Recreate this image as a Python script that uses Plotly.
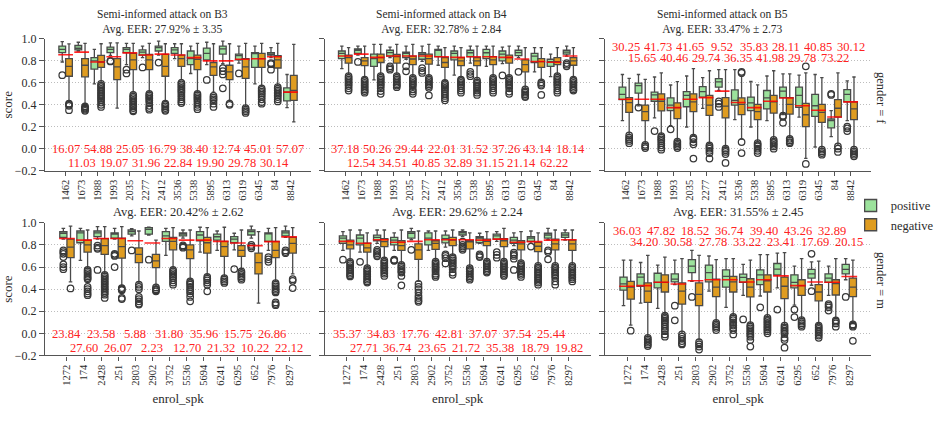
import plotly.graph_objects as go

# ---------------- data ----------------
speakers_f = ["1462", "1673", "1988", "1993", "2035", "2277", "2412", "3536",
              "5338", "5895", "6313", "6319", "6345", "84", "8842"]
speakers_m = ["1272", "174", "2428", "251", "2803", "2902", "3752", "5536",
              "5694", "6241", "6295", "652", "7976", "8297"]

attacks = ["B3", "B4", "B5"]
avg_eer = ["27.92% ± 3.35", "32.78% ± 2.84", "33.47% ± 2.73",
           "20.42% ± 2.62", "29.62% ± 2.24", "31.55% ± 2.45"]

# box stats per speaker: (lower whisker, q1, median, q3, upper whisker)
b3f_pos = [(0.79, 0.875, 0.905, 0.935, 0.975), (0.89, 0.90, 0.915, 0.94, 0.97), (0.59, 0.725, 0.80, 0.83, 0.905),
           (0.85, 0.876, 0.905, 0.926, 0.965), (0.765, 0.876, 0.905, 0.92, 0.96), (0.83, 0.853, 0.88, 0.90, 0.935),
           (0.853, 0.89, 0.92, 0.935, 0.98), (0.82, 0.868, 0.90, 0.92, 0.956), (0.685, 0.765, 0.82, 0.89, 0.935),
           (0.765, 0.81, 0.868, 0.917, 0.97), (0.774, 0.862, 0.91, 0.935, 0.98), (0.78, 0.81, 0.847, 0.862, 0.935),
           (0.59, 0.74, 0.868, 0.876, 0.935), (0.83, 0.853, 0.862, 0.876, 0.92), (0.373, 0.435, 0.515, 0.553, 0.676)]
b3f_neg = [(0.43, 0.66, 0.75, 0.82, 0.955), (0.41, 0.655, 0.76, 0.82, 0.96), (0.60, 0.74, 0.79, 0.85, 0.956),
           (0.37, 0.63, 0.745, 0.82, 0.965), (0.515, 0.72, 0.81, 0.868, 0.96), (0.515, 0.72, 0.81, 0.86, 0.96),
           (0.43, 0.66, 0.75, 0.86, 0.956), (0.63, 0.75, 0.82, 0.853, 0.956), (0.515, 0.72, 0.815, 0.853, 0.96),
           (0.515, 0.667, 0.745, 0.785, 0.956), (0.44, 0.63, 0.70, 0.76, 0.956), (0.38, 0.64, 0.745, 0.82, 0.96),
           (0.575, 0.74, 0.82, 0.868, 0.96), (0.575, 0.735, 0.81, 0.847, 0.96), (0.244, 0.44, 0.53, 0.667, 0.95)]
b3f_pos_out = [[0.67], [], [], [0.80, 0.795], [0.72, 0.685], [0.74], [0.785], [], [], [0.626],
               [0.735, 0.706, 0.676, 0.55], [0.685], [], [0.78, 0.77, 0.72], []]
b3f_neg_out = [[0.41, 0.40, 0.39, 0.35], [0.385, 0.375, 0.365, 0.355, 0.345],
               [0.59, 0.575, 0.56, 0.545, 0.53, 0.515, 0.50, 0.485, 0.47, 0.455, 0.44, 0.42, 0.40, 0.38], [],
               [0.49, 0.475, 0.46, 0.445, 0.43, 0.415, 0.40, 0.385, 0.37, 0.35, 0.34],
               [0.50, 0.485, 0.47, 0.455, 0.44, 0.42, 0.39, 0.37, 0.355],
               [0.41, 0.40, 0.385, 0.37, 0.355, 0.345],
               [0.60, 0.585, 0.57, 0.555, 0.54, 0.525, 0.51, 0.49, 0.47, 0.45, 0.43, 0.415],
               [0.50, 0.485, 0.47, 0.455, 0.44, 0.42, 0.40, 0.38, 0.36],
               [0.48, 0.465, 0.45, 0.435, 0.41, 0.38], [0.41, 0.40], [0.37, 0.355, 0.34, 0.325],
               [0.55, 0.535, 0.52, 0.505, 0.49, 0.47, 0.45, 0.425, 0.41],
               [0.56, 0.545, 0.53, 0.515, 0.50, 0.485, 0.47, 0.45, 0.43], []]
b3f_thr = [0.856, 0.88, 0.79, 0.838, 0.873, 0.853, 0.862, 0.853, 0.83, 0.80, 0.80, 0.815, 0.82, 0.838, 0.515]
b3f_eer = ["16.07", "11.03", "54.88", "19.07", "25.05", "31.96", "16.79", "22.84", "38.40", "19.90",
           "12.74", "29.78", "45.01", "30.14", "57.07"]

b4f_pos = [(0.73, 0.82, 0.868, 0.89, 0.935), (0.853, 0.868, 0.897, 0.91, 0.935), (0.626, 0.75, 0.82, 0.862, 0.95),
           (0.83, 0.844, 0.876, 0.897, 0.926), (0.815, 0.83, 0.868, 0.88, 0.935), (0.795, 0.815, 0.86, 0.874, 0.935),
           (0.76, 0.838, 0.897, 0.905, 0.935), (0.67, 0.81, 0.868, 0.89, 0.935), (0.78, 0.838, 0.874, 0.897, 0.935),
           (0.75, 0.82, 0.874, 0.905, 0.935), (0.775, 0.80, 0.862, 0.89, 0.926), (0.83, 0.847, 0.876, 0.897, 0.935),
           (0.70, 0.785, 0.844, 0.868, 0.92), (0.656, 0.75, 0.794, 0.815, 0.862), (0.844, 0.862, 0.88, 0.897, 0.935)]
b4f_neg = [(0.676, 0.78, 0.83, 0.853, 0.92), (0.647, 0.756, 0.80, 0.83, 0.935), (0.676, 0.785, 0.83, 0.862, 0.95),
           (0.676, 0.78, 0.838, 0.86, 0.95), (0.66, 0.765, 0.817, 0.844, 0.95), (0.66, 0.77, 0.82, 0.862, 0.95),
           (0.62, 0.74, 0.785, 0.83, 0.92), (0.647, 0.756, 0.80, 0.83, 0.92), (0.63, 0.756, 0.80, 0.83, 0.935),
           (0.66, 0.765, 0.81, 0.838, 0.935), (0.66, 0.78, 0.83, 0.853, 0.935), (0.544, 0.70, 0.765, 0.81, 0.92),
           (0.62, 0.74, 0.794, 0.82, 0.92), (0.676, 0.765, 0.794, 0.83, 0.92), (0.647, 0.76, 0.80, 0.83, 0.92)]
b4f_pos_out = [[], [0.79], [], [0.75, 0.735, 0.72], [0.75, 0.705], [0.735, 0.71, 0.69], [], [],
               [0.70, 0.68, 0.66], [], [0.667], [0.70], [], [], [0.78, 0.765, 0.75]]
b4f_neg_out = [[0.66, 0.645, 0.63, 0.615, 0.60, 0.585, 0.57, 0.55, 0.53],
               [0.63, 0.615, 0.60, 0.585, 0.57, 0.555, 0.54, 0.525, 0.51],
               [0.66, 0.645, 0.63, 0.615, 0.60, 0.585, 0.57, 0.55, 0.525, 0.50],
               [0.66, 0.645, 0.63, 0.615, 0.60, 0.585, 0.575, 0.56],
               [0.645, 0.63, 0.615, 0.60, 0.585, 0.57, 0.54, 0.52, 0.50],
               [0.645, 0.63, 0.615, 0.60, 0.585, 0.57, 0.555, 0.485],
               [0.60, 0.585, 0.57, 0.555, 0.54, 0.52, 0.50, 0.48, 0.46, 0.44],
               [0.63, 0.615, 0.60, 0.585, 0.57, 0.55, 0.53, 0.51],
               [0.62, 0.605, 0.59, 0.575, 0.56, 0.545, 0.53, 0.51, 0.49],
               [0.645, 0.63, 0.615, 0.60, 0.585, 0.57, 0.55, 0.53, 0.51],
               [0.645, 0.63, 0.615, 0.60, 0.585, 0.57, 0.55, 0.52, 0.50],
               [0.54, 0.525, 0.51, 0.495, 0.48, 0.47],
               [0.605, 0.59, 0.575, 0.49],
               [0.66, 0.645, 0.63, 0.615, 0.60, 0.585, 0.57, 0.55, 0.53, 0.51],
               [0.63, 0.615, 0.60, 0.585, 0.57, 0.555, 0.54, 0.53]]
b4f_thr = [0.844, 0.862, 0.832, 0.844, 0.844, 0.844, 0.838, 0.832, 0.838, 0.838, 0.832, 0.817, 0.794, 0.788, 0.844]
b4f_eer = ["37.18", "12.54", "50.26", "34.51", "29.44", "40.85", "22.01", "32.89", "31.52", "31.15",
           "37.26", "21.14", "43.14", "62.22", "18.14"]

b5f_pos = [(0.256, 0.447, 0.494, 0.56, 0.676), (0.39, 0.506, 0.574, 0.597, 0.676), (0.28, 0.432, 0.49, 0.515, 0.653),
           (0.21, 0.347, 0.397, 0.462, 0.58), (0.197, 0.382, 0.485, 0.52, 0.662), (0.367, 0.47, 0.52, 0.565, 0.647),
           (0.53, 0.56, 0.609, 0.638, 0.72), (0.265, 0.397, 0.44, 0.535, 0.72), (0.197, 0.347, 0.418, 0.47, 0.612),
           (0.256, 0.362, 0.462, 0.53, 0.662), (0.31, 0.465, 0.524, 0.56, 0.682), (0.288, 0.376, 0.485, 0.56, 0.67),
           (0.015, 0.294, 0.391, 0.494, 0.676), (0.109, 0.19, 0.256, 0.27, 0.347), (0.256, 0.426, 0.494, 0.538, 0.618)]
b5f_neg = [(0.13, 0.33, 0.42, 0.465, 0.64), (0.044, 0.256, 0.338, 0.397, 0.632), (0.13, 0.344, 0.432, 0.50, 0.69),
           (0.074, 0.274, 0.374, 0.418, 0.61), (0.118, 0.338, 0.426, 0.50, 0.73), (0.044, 0.303, 0.397, 0.485, 0.71),
           (0.015, 0.28, 0.388, 0.465, 0.72), (0.088, 0.31, 0.403, 0.462, 0.66), (0.06, 0.265, 0.338, 0.403, 0.582),
           (0.088, 0.324, 0.426, 0.485, 0.71), (0.103, 0.315, 0.403, 0.465, 0.682), (-0.088, 0.20, 0.309, 0.412, 0.69),
           (0.0, 0.24, 0.33, 0.403, 0.647), (0.03, 0.288, 0.368, 0.447, 0.69), (0.0, 0.265, 0.362, 0.426, 0.653)]
b5f_pos_out = [[], [0.374], [0.16], [0.176], [], [], [0.43, 0.41, 0.38], [], [], [],
               [0.30, 0.29, 0.235], [], [], [0.50, 0.49], [0.20, 0.185, 0.16]]
b5f_neg_out = [[0.12, 0.10, 0.085, 0.07, 0.05], [0.035, 0.02, 0.005],
               [0.115, 0.10, 0.085, 0.07, 0.05, 0.03, 0.01, -0.01], [0.065, 0.05, 0.035, 0.02, 0.005],
               [0.10, 0.085, 0.06, 0.04, -0.09], [0.03, 0.015, 0.0, -0.02, -0.04, -0.09],
               [0.0, -0.015, -0.03, -0.05, -0.13], [0.70, 0.69, 0.06, -0.04],
               [0.05, 0.035, 0.02, 0.0, -0.02, -0.04], [0.08, 0.065, 0.05, 0.035, 0.02, 0.0],
               [0.09, 0.075, 0.06, 0.05], [0.75, -0.14], [-0.01, -0.025, -0.04, -0.055],
               [0.02, 0.0, -0.03], [-0.01, -0.025, -0.04, -0.055, -0.07]]
b5f_thr = [0.45, 0.45, 0.45, 0.374, 0.45, 0.465, 0.524, 0.42, 0.374, 0.432, 0.462, 0.391, 0.35, 0.288, 0.426]
b5f_eer = ["30.25", "15.65", "41.73", "40.46", "41.65", "29.74", "9.52", "36.35", "35.83", "41.98",
           "28.11", "29.78", "40.85", "73.22", "30.12"]

b3m_pos = [(0.853, 0.868, 0.906, 0.92, 0.95), (0.66, 0.82, 0.91, 0.926, 0.95), (0.853, 0.876, 0.91, 0.926, 0.965),
           (0.853, 0.862, 0.897, 0.91, 0.95), (0.882, 0.897, 0.92, 0.935, 0.947), (0.89, 0.897, 0.94, 0.956, 0.96),
           (0.706, 0.832, 0.882, 0.92, 0.95), (0.862, 0.882, 0.897, 0.91, 0.935), (0.735, 0.838, 0.89, 0.92, 0.96),
           (0.75, 0.844, 0.874, 0.897, 0.926), (0.756, 0.82, 0.853, 0.876, 0.906), (0.862, 0.89, 0.92, 0.935, 0.97),
           (0.75, 0.832, 0.905, 0.91, 0.95), (0.868, 0.882, 0.91, 0.926, 0.97)]
b3m_neg = [(0.465, 0.685, 0.78, 0.853, 0.97), (0.59, 0.735, 0.80, 0.844, 0.935), (0.544, 0.715, 0.794, 0.858, 0.965),
           (0.426, 0.68, 0.785, 0.862, 0.965), (0.456, 0.64, 0.715, 0.773, 0.926), (0.426, 0.594, 0.656, 0.715, 0.844),
           (0.59, 0.756, 0.832, 0.868, 0.956), (0.485, 0.676, 0.756, 0.80, 0.935), (0.53, 0.726, 0.82, 0.868, 0.956),
           (0.515, 0.697, 0.785, 0.832, 0.96), (0.574, 0.697, 0.75, 0.794, 0.935), (0.274, 0.538, 0.64, 0.726, 0.92),
           (0.47, 0.685, 0.75, 0.832, 0.956), (0.538, 0.726, 0.815, 0.868, 0.956)]
b3m_pos_out = [[0.75, 0.735, 0.72, 0.69, 0.625, 0.60, 0.58], [], [0.794, 0.775, 0.765, 0.574],
               [0.72, 0.71, 0.70, 0.60], [0.75], [0.667], [], [0.795, 0.785, 0.775], [], [], [0.582],
               [0.80, 0.785, 0.77], [0.69, 0.67, 0.647], [0.75, 0.735, 0.725]]
b3m_neg_out = [[0.406], [0.575, 0.56, 0.545, 0.53, 0.515, 0.50, 0.49, 0.42, 0.40, 0.38, 0.36, 0.345],
               [0.53, 0.515, 0.50, 0.485, 0.47, 0.455, 0.44, 0.425, 0.41, 0.395, 0.38, 0.365, 0.35, 0.32],
               [0.41, 0.40, 0.39, 0.32, 0.31], [0.44, 0.42, 0.40, 0.33, 0.31, 0.29, 0.27, 0.26],
               [0.415, 0.40, 0.39, 0.38], [0.575, 0.56, 0.545, 0.53, 0.515, 0.50, 0.48, 0.46, 0.44],
               [0.47, 0.455, 0.44, 0.42, 0.40, 0.38, 0.36, 0.33, 0.29], [0.51, 0.495, 0.48, 0.46, 0.44, 0.38],
               [0.50, 0.485, 0.47, 0.456], [0.56, 0.545, 0.53, 0.515, 0.50, 0.485], [],
               [0.455, 0.44, 0.425, 0.41, 0.395, 0.38, 0.37, 0.28, 0.265, 0.255], [0.49, 0.475, 0.41]]
b3m_thr = [0.858, 0.844, 0.858, 0.858, 0.838, 0.818, 0.858, 0.844, 0.844, 0.832, 0.818, 0.794, 0.83, 0.873]
b3m_eer = ["23.84", "27.60", "23.58", "26.07", "5.88", "2.23", "31.80", "12.70", "35.96", "21.32",
           "15.75", "10.22", "26.86", "22.12"]

b4m_pos = [(0.75, 0.815, 0.862, 0.882, 0.92), (0.735, 0.80, 0.862, 0.89, 0.935), (0.815, 0.838, 0.868, 0.888, 0.935),
           (0.75, 0.80, 0.844, 0.868, 0.91), (0.847, 0.862, 0.906, 0.92, 0.95), (0.75, 0.80, 0.862, 0.91, 0.926),
           (0.78, 0.818, 0.858, 0.888, 0.926), (0.876, 0.89, 0.91, 0.92, 0.935), (0.815, 0.82, 0.862, 0.874, 0.906),
           (0.832, 0.853, 0.882, 0.897, 0.92), (0.794, 0.815, 0.844, 0.868, 0.91), (0.815, 0.832, 0.862, 0.876, 0.926),
           (0.847, 0.862, 0.89, 0.906, 0.95), (0.844, 0.868, 0.89, 0.91, 0.935)]
b4m_neg = [(0.66, 0.765, 0.80, 0.844, 0.935), (0.60, 0.735, 0.774, 0.817, 0.91), (0.676, 0.785, 0.83, 0.858, 0.935),
           (0.632, 0.75, 0.794, 0.838, 0.935), (0.47, 0.67, 0.756, 0.81, 0.926), (0.66, 0.76, 0.815, 0.838, 0.926),
           (0.706, 0.794, 0.844, 0.868, 0.935), (0.60, 0.765, 0.832, 0.838, 0.91), (0.66, 0.794, 0.832, 0.853, 0.92),
           (0.66, 0.785, 0.838, 0.858, 0.95), (0.647, 0.756, 0.81, 0.838, 0.92), (0.62, 0.74, 0.788, 0.824, 0.91),
           (0.62, 0.756, 0.81, 0.853, 0.935), (0.624, 0.75, 0.81, 0.844, 0.935)]
b4m_pos_out = [[0.667], [0.647], [0.756, 0.74, 0.725, 0.71, 0.697], [0.667, 0.66, 0.656], [0.756], [],
               [0.715, 0.70, 0.68, 0.632], [0.83, 0.80, 0.785, 0.77, 0.756], [0.715, 0.70, 0.69],
               [0.735, 0.71, 0.685], [0.73, 0.715, 0.70, 0.676, 0.574], [0.785], [0.75, 0.735, 0.67], []]
b4m_neg_out = [[0.647, 0.632, 0.617, 0.60, 0.585, 0.57, 0.555, 0.54, 0.525, 0.515],
               [0.59, 0.575, 0.56, 0.545, 0.53, 0.515, 0.50, 0.485, 0.47, 0.46],
               [0.66, 0.645, 0.63, 0.615, 0.60, 0.585, 0.57, 0.555, 0.54, 0.52],
               [0.62, 0.605, 0.59, 0.575, 0.56, 0.55, 0.52, 0.435],
               [0.447, 0.42, 0.40, 0.37, 0.34, 0.32, 0.30, 0.285],
               [0.65, 0.635, 0.62, 0.605, 0.59, 0.575, 0.56, 0.54, 0.525, 0.51],
               [0.69, 0.675, 0.66, 0.645, 0.63, 0.615, 0.60, 0.58, 0.55, 0.53],
               [0.59, 0.575, 0.56, 0.545, 0.53, 0.515, 0.50, 0.485],
               [0.65, 0.635, 0.62, 0.605, 0.59, 0.575, 0.56, 0.55],
               [0.65, 0.635, 0.62, 0.605, 0.59, 0.575, 0.56, 0.545, 0.53, 0.52],
               [0.635, 0.62, 0.605, 0.59, 0.575, 0.56, 0.545, 0.53, 0.51],
               [0.61, 0.595, 0.58, 0.565, 0.55, 0.535, 0.52, 0.505, 0.49, 0.475, 0.46, 0.44],
               [0.61, 0.595, 0.58, 0.565, 0.55, 0.535, 0.52, 0.50, 0.47, 0.44],
               [0.61, 0.595, 0.58, 0.565, 0.55, 0.535, 0.52, 0.505, 0.49, 0.47]]
b4m_thr = [0.832, 0.815, 0.847, 0.824, 0.832, 0.847, 0.847, 0.847, 0.844, 0.853, 0.824, 0.83, 0.844, 0.847]
b4m_eer = ["35.37", "27.71", "34.83", "36.74", "17.76", "23.65", "42.81", "21.72", "37.07", "35.38",
           "37.54", "18.79", "25.44", "19.82"]

b5m_pos = [(0.25, 0.391, 0.447, 0.509, 0.662), (0.274, 0.426, 0.509, 0.538, 0.641), (0.226, 0.412, 0.462, 0.544, 0.618),
           (0.44, 0.465, 0.49, 0.538, 0.662), (0.47, 0.55, 0.609, 0.668, 0.75), (0.382, 0.465, 0.55, 0.618, 0.70),
           (0.235, 0.418, 0.515, 0.574, 0.676), (0.344, 0.462, 0.506, 0.535, 0.624), (0.338, 0.44, 0.53, 0.574, 0.712),
           (0.412, 0.53, 0.582, 0.632, 0.726), (0.256, 0.412, 0.462, 0.53, 0.609), (0.435, 0.50, 0.538, 0.579, 0.647),
           (0.344, 0.462, 0.50, 0.538, 0.609), (0.485, 0.538, 0.579, 0.624, 0.676)]
b5m_neg = [(0.074, 0.309, 0.418, 0.47, 0.662), (-0.03, 0.28, 0.382, 0.456, 0.706), (0.176, 0.374, 0.462, 0.53, 0.69),
           (0.0, 0.265, 0.382, 0.456, 0.676), (-0.06, 0.25, 0.353, 0.456, 0.706), (0.103, 0.332, 0.418, 0.49, 0.667),
           (0.162, 0.374, 0.465, 0.515, 0.676), (0.088, 0.33, 0.418, 0.494, 0.662), (0.147, 0.374, 0.476, 0.53, 0.712),
           (0.074, 0.315, 0.426, 0.509, 0.73), (0.132, 0.344, 0.432, 0.485, 0.676), (0.088, 0.294, 0.374, 0.44, 0.653),
           (0.132, 0.347, 0.45, 0.485, 0.676), (0.088, 0.332, 0.418, 0.50, 0.662)]
b5m_pos_out = [[], [], [], [0.25, 0.118], [0.33], [], [], [0.126], [0.235], [0.215], [0.215, 0.147],
               [0.72, 0.382], [0.265, 0.25, 0.235, 0.206], [0.33]]
b5m_neg_out = [[0.024], [-0.04, -0.055, -0.07, -0.085, -0.10, -0.115],
               [0.16, 0.145, 0.13, 0.115, 0.10, 0.08, 0.06, 0.04, 0.02, -0.01, -0.03],
               [-0.01, -0.03, -0.05, -0.07, -0.09, -0.10], [-0.08, -0.10, -0.12, -0.147],
               [0.094, 0.08, 0.065, 0.05, 0.03],
               [0.15, 0.135, 0.12, 0.10, 0.085, 0.07, 0.05, 0.03, -0.01],
               [0.074, 0.06, 0.045, 0.03, 0.015, 0.0, -0.015, -0.03, -0.06, -0.12],
               [0.14, 0.125, 0.11, 0.095, 0.08, 0.065, 0.05, 0.035, 0.02, 0.0],
               [0.07, 0.055, 0.04, 0.025, 0.01, -0.005, -0.04, -0.06, -0.13],
               [0.12, 0.105, 0.09, 0.075, 0.06],
               [0.07, 0.055, 0.04, 0.025, 0.01, -0.005, -0.02, -0.04],
               [0.118, 0.105, 0.09, 0.06], [0.08, 0.07, 0.06, -0.068]]
b5m_thr = [0.426, 0.432, 0.462, 0.447, 0.476, 0.485, 0.485, 0.465, 0.485, 0.52, 0.432, 0.465, 0.462, 0.515]
b5m_eer = ["36.03", "34.20", "47.82", "30.58", "18.52", "27.78", "36.74", "33.22", "39.40", "23.41",
           "43.26", "17.69", "32.89", "20.15"]

y_ticks = [-0.2, 0.0, 0.2, 0.4, 0.6, 0.8, 1.0]
y_ticktext = ["\u22120.2", "0.0", "0.2", "0.4", "0.6", "0.8", "1.0"]

# ---------------- style ----------------
W, H = 939, 436
FONT = "Liberation Serif"
POS_COLOR = "#9ce29c"
NEG_COLOR = "#df9c20"
EDGE = "#4a4a4a"
TXT = "#2b2b2b"

col_px = [(42, 314), (328, 600), (615, 887)]
row_px = [(33, 169), (223, 360)]

panels = [
    (speakers_f, b3f_pos, b3f_neg, b3f_pos_out, b3f_neg_out, b3f_thr, b3f_eer, "low"),
    (speakers_f, b4f_pos, b4f_neg, b4f_pos_out, b4f_neg_out, b4f_thr, b4f_eer, "low"),
    (speakers_f, b5f_pos, b5f_neg, b5f_pos_out, b5f_neg_out, b5f_thr, b5f_eer, "high"),
    (speakers_m, b3m_pos, b3m_neg, b3m_pos_out, b3m_neg_out, b3m_thr, b3m_eer, "low"),
    (speakers_m, b4m_pos, b4m_neg, b4m_pos_out, b4m_neg_out, b4m_thr, b4m_eer, "low"),
    (speakers_m, b5m_pos, b5m_neg, b5m_pos_out, b5m_neg_out, b5m_thr, b5m_eer, "high"),
]

fig = go.Figure()
layout = {}
annotations = []
OFF = 0.21
BW = 0.42

for k, (cats, pos_box, neg_box, pos_out, neg_out, thr, eer, where) in enumerate(panels, start=1):
    r, c = divmod(k - 1, 3)
    sfx = "" if k == 1 else str(k)
    xa, ya = "x" + sfx, "y" + sfx
    n = len(cats)
    idx = list(range(n))

    for name, box, outs, color, off in [("positive", pos_box, pos_out, POS_COLOR, -OFF),
                                         ("negative", neg_box, neg_out, NEG_COLOR, OFF)]:
        lo, q1, med, q3, hi = zip(*box)
        fig.add_trace(go.Box(
            x=[i + off for i in idx], lowerfence=list(lo), q1=list(q1), median=list(med),
            q3=list(q3), upperfence=list(hi), width=BW, whiskerwidth=0.5,
            fillcolor=color, line=dict(color=EDGE, width=1.3), boxpoints=False,
            name=name, legendgroup=name, showlegend=(k == 1), hoverinfo="skip",
            xaxis=xa, yaxis=ya))
        ox, oy = [], []
        for i, vals in zip(idx, outs):
            for v in vals:
                ox.append(i + off)
                oy.append(v)
        fig.add_trace(go.Scatter(
            x=ox, y=oy, mode="markers", showlegend=False, hoverinfo="skip",
            marker=dict(symbol="circle-open", size=6.5, color="#383838", line=dict(width=1.25, color="#383838")),
            xaxis=xa, yaxis=ya))

    # threshold lines
    tx, ty = [], []
    for i, t in zip(idx, thr):
        tx += [i - 0.46, i + 0.46, None]
        ty += [t, t, None]
    fig.add_trace(go.Scatter(x=tx, y=ty, mode="lines", showlegend=False, hoverinfo="skip",
                             line=dict(color="rgba(255,0,0,0.85)", width=1.6),
                             xaxis=xa, yaxis=ya))

    # EER annotations (alternating rows)
    y_top, y_bot = (0.0, -0.125) if where == "low" else (0.935, 0.83)
    for i, e in zip(idx, eer):
        annotations.append(dict(x=i, y=y_top if i % 2 == 0 else y_bot, xref=xa, yref=ya,
                                text=e, showarrow=False, xanchor="center", yanchor="middle",
                                height=11, valign="middle",
                                font=dict(family=FONT, size=12.5, color="#ff2222")))

    x0, x1 = col_px[c]
    y0, y1 = row_px[r]
    layout["xaxis" + sfx] = dict(
        domain=[x0 / W, x1 / W], anchor=ya, range=[-1.28, n - 1 + 1.28],
        tickmode="array", tickvals=idx, ticktext=cats, tickangle=-90,
        tickfont=dict(family=FONT, size=10.5, color=TXT),
        showgrid=False, zeroline=False, showline=True, linecolor="#555", linewidth=1.2,
        ticks="outside", ticklen=4, tickcolor="#555",
        title=dict(text="enrol_spk" if r == 1 else "", font=dict(family=FONT, size=13, color=TXT), standoff=9))
    layout["yaxis" + sfx] = dict(
        domain=[1 - y1 / H, 1 - y0 / H], anchor=xa, range=[-0.2, 1.0],
        tickmode="array", tickvals=y_ticks, ticktext=y_ticktext,
        showticklabels=(c == 0), tickfont=dict(family=FONT, size=12, color=TXT),
        showgrid=True, gridcolor="#bdbdbd", griddash="1px,2px", gridwidth=1,
        zeroline=False, showline=True, linecolor="#555", linewidth=1.2,
        ticks="outside", ticklen=5, tickcolor="#555",
        title=dict(text="score" if c == 0 else "", font=dict(family=FONT, size=13, color=TXT), standoff=6))

# titles (two-line title for the top row, one line for the bottom row)
title_x = [162, 448, 735]
for c in range(3):
    annotations.append(dict(x=title_x[c] / W, y=1 - 15.5 / H, xref="paper", yref="paper",
                            text="Semi-informed attack on " + attacks[c] + "<br>Avg. EER: " + avg_eer[c],
                            showarrow=False, align="center",
                            font=dict(family=FONT, size=11.5, color=TXT), xanchor="center", yanchor="middle"))
    cx = (col_px[c][0] + col_px[c][1]) / 2
    annotations.append(dict(x=cx / W, y=1 - 212 / H, xref="paper", yref="paper",
                            text="Avg. EER: " + avg_eer[3 + c], showarrow=False,
                            font=dict(family=FONT, size=12.5, color=TXT), xanchor="center", yanchor="middle"))

for txt, yc in [("gender = f", 94), ("gender = m", 283)]:
    annotations.append(dict(x=897 / W, y=1 - yc / H, xref="paper", yref="paper", text=txt,
                            showarrow=False, textangle=90, font=dict(family=FONT, size=12.5, color=TXT),
                            xanchor="center", yanchor="middle"))

fig.update_layout(
    width=W, height=H, margin=dict(l=0, r=0, t=0, b=0),
    paper_bgcolor="white", plot_bgcolor="white",
    font=dict(family=FONT, color=TXT),
    annotations=annotations, showlegend=True,
    legend=dict(x=866 / W, y=1 - 190 / H, xanchor="left", yanchor="top",
                font=dict(family=FONT, size=12.5, color=TXT), bgcolor="rgba(0,0,0,0)",
                tracegroupgap=0, itemwidth=30),
    **layout)

fig.write_html("out.html")
